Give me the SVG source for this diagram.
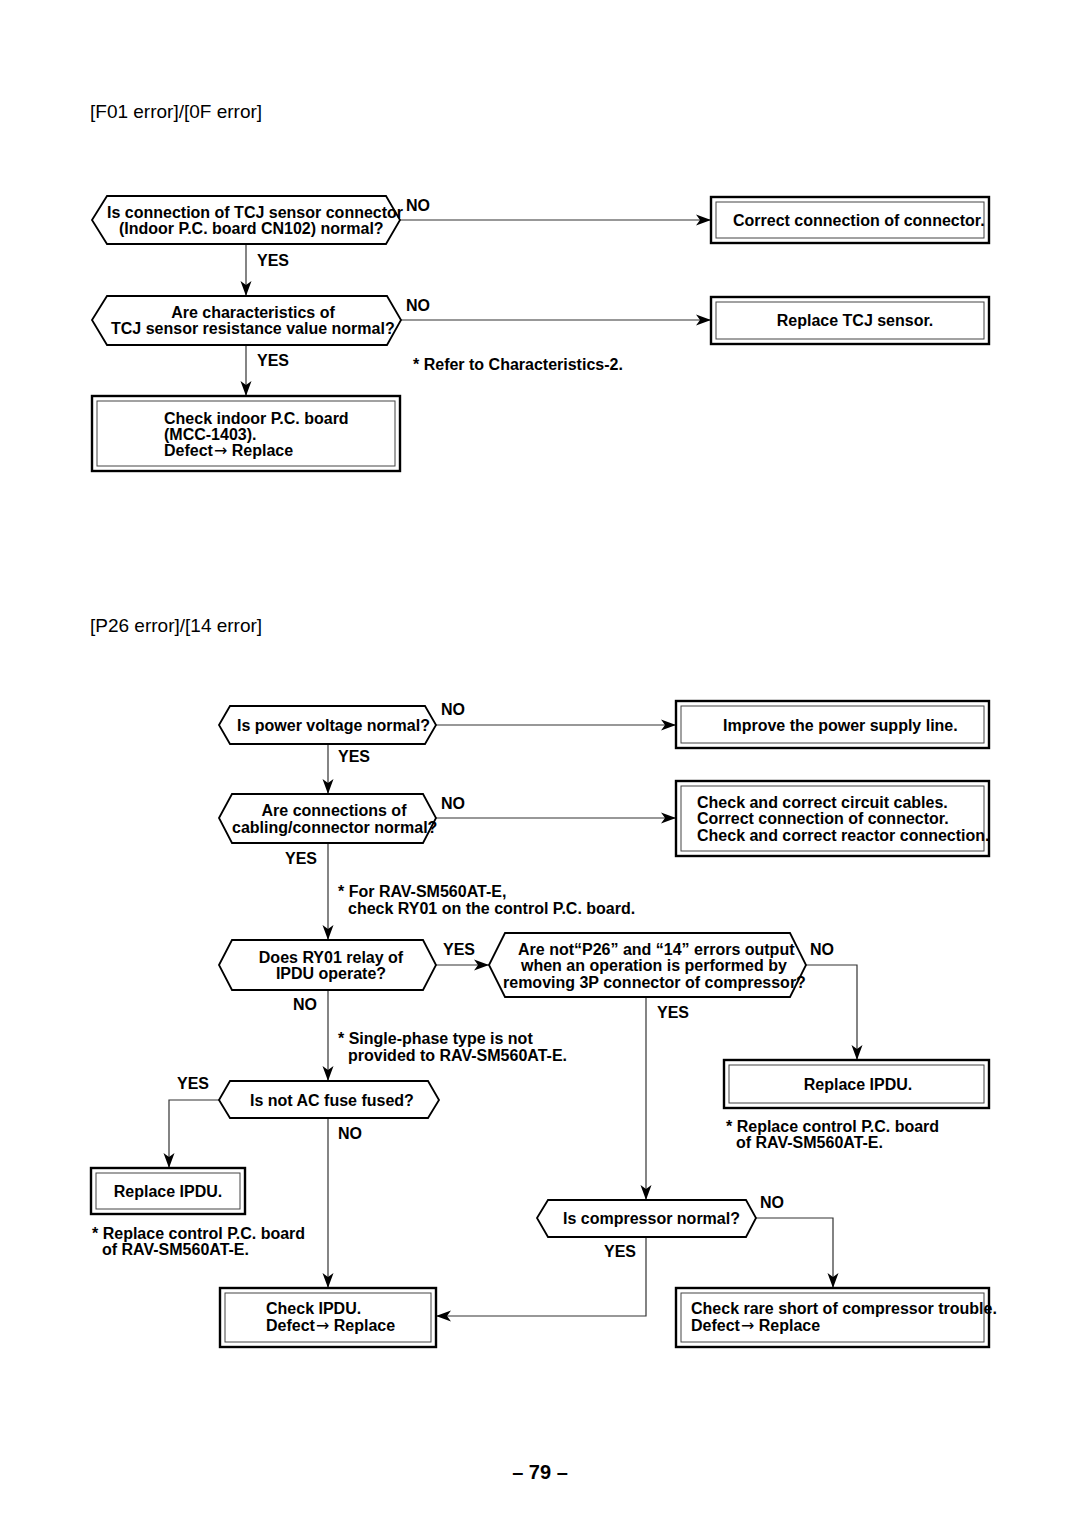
<svg xmlns="http://www.w3.org/2000/svg" width="1080" height="1525" viewBox="0 0 1080 1525">
<style>
  text { font-family: "Liberation Sans", Arial, Helvetica, sans-serif; fill: #000; }
  .t { font-size: 16px; font-weight: bold; }
  .title { font-size: 19px; font-weight: normal; }
  .lbl { font-size: 16px; font-weight: bold; }
  .arw { font-family: "DejaVu Sans", sans-serif; font-weight: normal; font-size: 16px; }
  .hex { fill: #fff; stroke: #000; stroke-width: 1.8; stroke-linejoin: miter; }
  .bo { fill: #fff; stroke: #000; stroke-width: 2.4; }
  .bi { fill: none; stroke: #444; stroke-width: 1; }
  .c { fill: none; stroke: #333; stroke-width: 1.2; }
  .m { text-anchor: middle; }
</style>
<defs>
  <marker id="ar" markerUnits="userSpaceOnUse" markerWidth="16" markerHeight="12" viewBox="0 0 16 12" refX="15" refY="6" orient="auto">
    <path d="M0,0.5 L15,6 L0,11.5 L4,6 Z" fill="#000"/>
  </marker>
</defs>
<rect x="0" y="0" width="1080" height="1525" fill="#fff"/>

<text class="title" x="90" y="118">[F01 error]/[0F error]</text>
<text class="title" x="90" y="632">[P26 error]/[14 error]</text>

<g id="connectors">
  <path class="c" d="M400,220 H711" marker-end="url(#ar)"/>
  <path class="c" d="M246,244 V296" marker-end="url(#ar)"/>
  <path class="c" d="M401,320 H711" marker-end="url(#ar)"/>
  <path class="c" d="M246,345 V396" marker-end="url(#ar)"/>
  <path class="c" d="M436,725 H676" marker-end="url(#ar)"/>
  <path class="c" d="M328,744 V794" marker-end="url(#ar)"/>
  <path class="c" d="M436,818 H676" marker-end="url(#ar)"/>
  <path class="c" d="M328,843 V940" marker-end="url(#ar)"/>
  <path class="c" d="M436,965 H489" marker-end="url(#ar)"/>
  <path class="c" d="M806,965 H857 V1060" marker-end="url(#ar)"/>
  <path class="c" d="M646,997 V1200" marker-end="url(#ar)"/>
  <path class="c" d="M328,990 V1081" marker-end="url(#ar)"/>
  <path class="c" d="M220,1100 H169 V1168" marker-end="url(#ar)"/>
  <path class="c" d="M328,1118 V1288" marker-end="url(#ar)"/>
  <path class="c" d="M756,1218 H833 V1288" marker-end="url(#ar)"/>
  <path class="c" d="M646,1237 V1316 H436" marker-end="url(#ar)"/>
</g>

<g id="labels">
  <text class="lbl" x="406" y="211">NO</text>
  <text class="lbl" x="257" y="266">YES</text>
  <text class="lbl" x="406" y="311">NO</text>
  <text class="lbl" x="257" y="366">YES</text>
  <text class="t" x="413" y="370">* Refer to Characteristics-2.</text>
  <text class="lbl" x="441" y="715">NO</text>
  <text class="lbl" x="338" y="762">YES</text>
  <text class="lbl" x="441" y="809">NO</text>
  <text class="lbl" x="285" y="864">YES</text>
  <text class="t" x="338" y="897">* For RAV-SM560AT-E,</text>
  <text class="t" x="348" y="914">check RY01 on the control P.C. board.</text>
  <text class="lbl" x="443" y="955">YES</text>
  <text class="lbl" x="810" y="955">NO</text>
  <text class="lbl" x="657" y="1018">YES</text>
  <text class="lbl" x="293" y="1010">NO</text>
  <text class="t" x="338" y="1044">* Single-phase type is not</text>
  <text class="t" x="348" y="1061">provided to RAV-SM560AT-E.</text>
  <text class="lbl" x="177" y="1089">YES</text>
  <text class="lbl" x="338" y="1139">NO</text>
  <text class="t" x="726" y="1132">* Replace control P.C. board</text>
  <text class="t" x="736" y="1148">of RAV-SM560AT-E.</text>
  <text class="t" x="92" y="1239">* Replace control P.C. board</text>
  <text class="t" x="102" y="1255">of RAV-SM560AT-E.</text>
  <text class="lbl" x="760" y="1208">NO</text>
  <text class="lbl" x="604" y="1257">YES</text>
</g>

<g id="q1">
  <path class="hex" d="M92,220 L107,196 L386,196 L400,220 L386,244 L107,244 Z"/>
  <text class="t" x="107" y="218">Is connection of TCJ sensor connector</text>
  <text class="t" x="119" y="234">(Indoor P.C. board CN102) normal?</text>
</g>
<g id="q2">
  <path class="hex" d="M92,320 L107,296 L387,296 L401,320 L387,345 L107,345 Z"/>
  <text class="t m" x="253" y="318">Are characteristics of</text>
  <text class="t" x="111" y="334">TCJ sensor resistance value normal?</text>
</g>
<g id="b1">
  <rect class="bo" x="711" y="197" width="278" height="46"/>
  <rect class="bi" x="716" y="202" width="268" height="36"/>
  <text class="t" x="733" y="226">Correct connection of connector.</text>
</g>
<g id="b2">
  <rect class="bo" x="711" y="297" width="278" height="47"/>
  <rect class="bi" x="716" y="302" width="268" height="37"/>
  <text class="t m" x="855" y="326">Replace TCJ sensor.</text>
</g>
<g id="b3">
  <rect class="bo" x="92" y="396" width="308" height="75"/>
  <rect class="bi" x="97" y="401" width="298" height="65"/>
  <text class="t" x="164" y="424">Check indoor P.C. board</text>
  <text class="t" x="164" y="440">(MCC-1403).</text>
  <text class="t" x="164" y="456">Defect<tspan class="arw" dx="1">→</tspan> Replace</text>
</g>

<g id="qa">
  <path class="hex" d="M219,725 L230,706 L425,706 L436,725 L425,744 L230,744 Z"/>
  <text class="t" x="237" y="731">Is power voltage normal?</text>
</g>
<g id="ba">
  <rect class="bo" x="676" y="701" width="313" height="47"/>
  <rect class="bi" x="681" y="706" width="303" height="37"/>
  <text class="t" x="723" y="731">Improve the power supply line.</text>
</g>
<g id="qb">
  <path class="hex" d="M219,818 L232,794 L423,794 L436,818 L423,843 L232,843 Z"/>
  <text class="t m" x="334" y="816">Are connections of</text>
  <text class="t" x="232" y="833">cabling/connector normal?</text>
</g>
<g id="bb">
  <rect class="bo" x="676" y="781" width="313" height="75"/>
  <rect class="bi" x="681" y="786" width="303" height="65"/>
  <text class="t" x="697" y="808">Check and correct circuit cables.</text>
  <text class="t" x="697" y="824">Correct connection of connector.</text>
  <text class="t" x="697" y="841">Check and correct reactor connection.</text>
</g>
<g id="qc">
  <path class="hex" d="M219,965 L232,940 L423,940 L436,965 L423,990 L232,990 Z"/>
  <text class="t m" x="331" y="963">Does RY01 relay of</text>
  <text class="t m" x="331" y="979">IPDU operate?</text>
</g>
<g id="qd">
  <path class="hex" d="M489,965 L505,933 L790,933 L806,965 L790,997 L505,997 Z"/>
  <text class="t" x="518" y="955">Are not“P26” and “14” errors output</text>
  <text class="t" x="521" y="971">when an operation is performed by</text>
  <text class="t" x="503" y="988">removing 3P connector of compressor?</text>
</g>
<g id="br">
  <rect class="bo" x="724" y="1060" width="265" height="48"/>
  <rect class="bi" x="729" y="1065" width="255" height="38"/>
  <text class="t m" x="858" y="1090">Replace IPDU.</text>
</g>
<g id="qf">
  <path class="hex" d="M219,1100 L230,1081 L428,1081 L439,1100 L428,1118 L230,1118 Z"/>
  <text class="t" x="250" y="1106">Is not AC fuse fused?</text>
</g>
<g id="bl">
  <rect class="bo" x="91" y="1168" width="154" height="46"/>
  <rect class="bi" x="96" y="1173" width="144" height="36"/>
  <text class="t m" x="168" y="1197">Replace IPDU.</text>
</g>
<g id="qe">
  <path class="hex" d="M537,1218 L548,1200 L746,1200 L756,1218 L746,1237 L548,1237 Z"/>
  <text class="t" x="563" y="1224">Is compressor normal?</text>
</g>
<g id="bci">
  <rect class="bo" x="220" y="1288" width="216" height="59"/>
  <rect class="bi" x="225" y="1293" width="206" height="49"/>
  <text class="t" x="266" y="1314">Check IPDU.</text>
  <text class="t" x="266" y="1331">Defect<tspan class="arw" dx="1">→</tspan> Replace</text>
</g>
<g id="bcr">
  <rect class="bo" x="676" y="1288" width="313" height="59"/>
  <rect class="bi" x="681" y="1293" width="303" height="49"/>
  <text class="t" x="691" y="1314">Check rare short of compressor trouble.</text>
  <text class="t" x="691" y="1331">Defect<tspan class="arw" dx="1">→</tspan> Replace</text>
</g>

<text x="540" y="1479" text-anchor="middle" style="font-size:20px;font-weight:bold">– 79 –</text>
</svg>
